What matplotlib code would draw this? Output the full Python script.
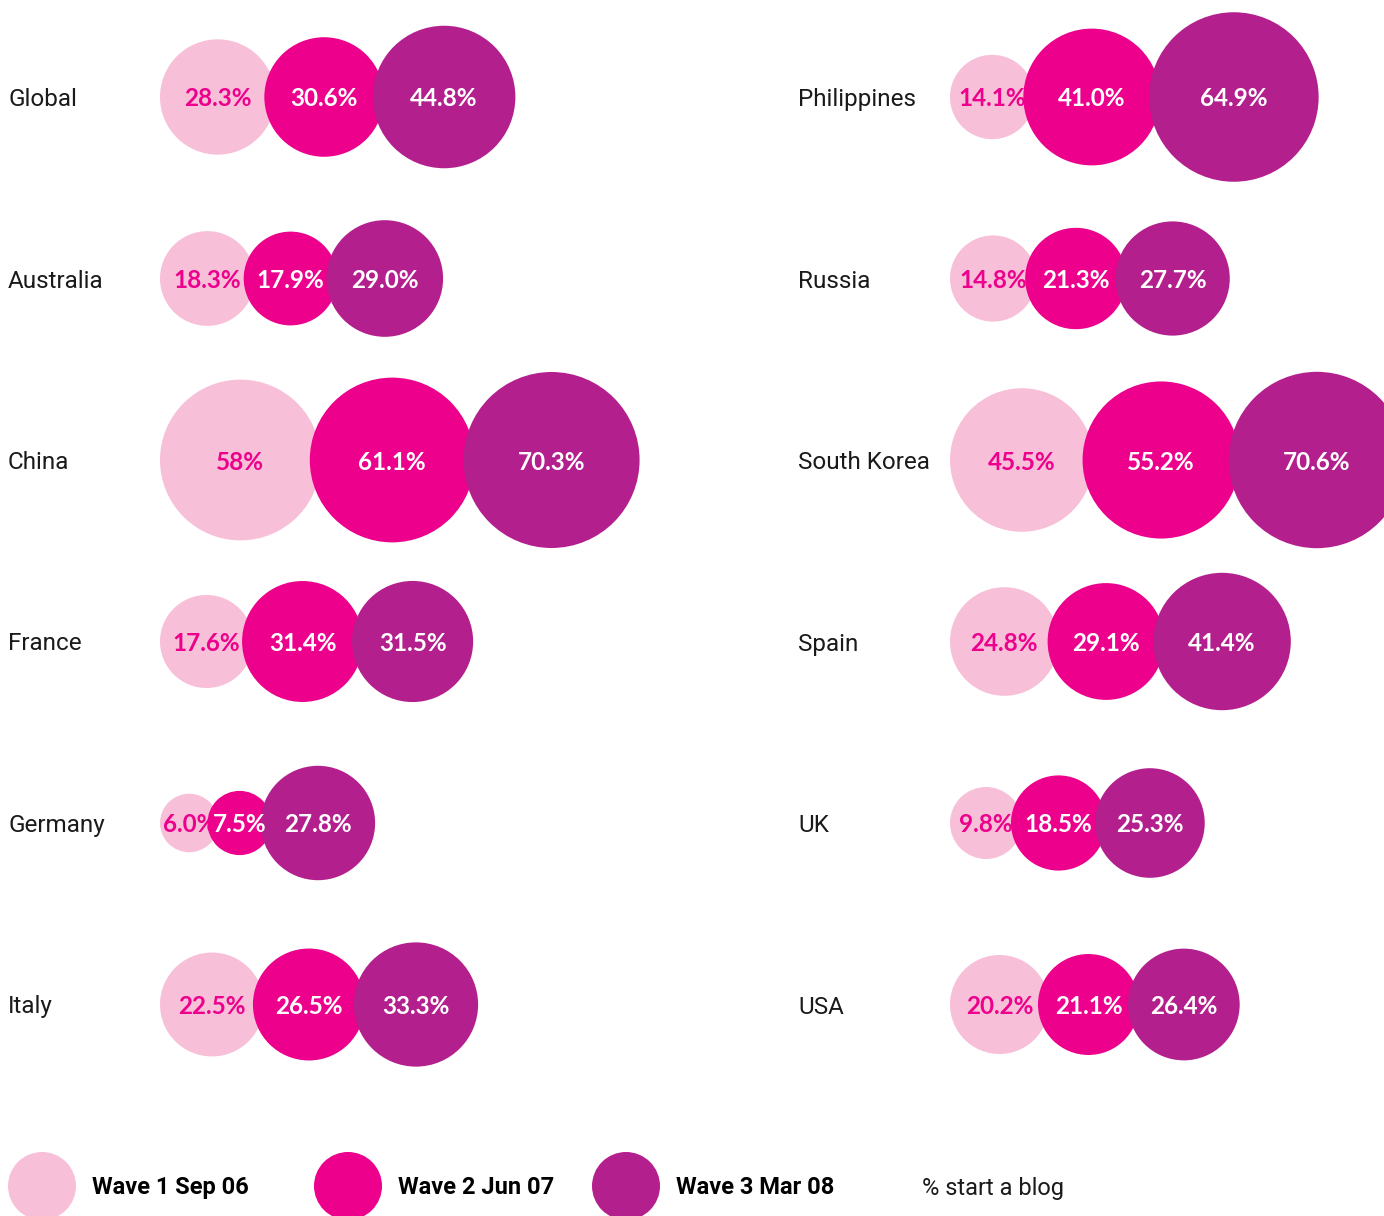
"""Bubble rows: % of internet users who started a blog, three survey waves."""
import numpy as np
import matplotlib
matplotlib.use("Agg")
import matplotlib.pyplot as plt
from matplotlib.patches import Circle

# data
left_countries = ["Global", "Australia", "China", "France", "Germany", "Italy"]
left_wave1 = [28.3, 18.3, 58.0, 17.6, 6.0, 22.5]
left_wave2 = [30.6, 17.9, 61.1, 31.4, 7.5, 26.5]
left_wave3 = [44.8, 29.0, 70.3, 31.5, 27.8, 33.3]
left_text = [["28.3%", "30.6%", "44.8%"], ["18.3%", "17.9%", "29.0%"],
             ["58%", "61.1%", "70.3%"], ["17.6%", "31.4%", "31.5%"],
             ["6.0%", "7.5%", "27.8%"], ["22.5%", "26.5%", "33.3%"]]

right_countries = ["Philippines", "Russia", "South Korea", "Spain", "UK", "USA"]
right_wave1 = [14.1, 14.8, 45.5, 24.8, 9.8, 20.2]
right_wave2 = [41.0, 21.3, 55.2, 29.1, 18.5, 21.1]
right_wave3 = [64.9, 27.7, 70.6, 41.4, 25.3, 26.4]
right_text = [["14.1%", "41.0%", "64.9%"], ["14.8%", "21.3%", "27.7%"],
              ["45.5%", "55.2%", "70.6%"], ["24.8%", "29.1%", "41.4%"],
              ["9.8%", "18.5%", "25.3%"], ["20.2%", "21.1%", "26.4%"]]

waves = ["Wave 1 Sep 06", "Wave 2 Jun 07", "Wave 3 Mar 08"]
measure = "% start a blog"

# styling
COLORS = ["#f7c0d8", "#ec008c", "#b41f8e"]
TEXT_COLORS = ["#ec008c", "white", "white"]
LABEL_FONT = ["Roboto", "DejaVu Sans"]
NUM_FONT = ["Lato", "DejaVu Sans"]
R0, R_SCALE = 5, 9.9   # radius = R0 + R_SCALE * sqrt(percent)
OVERLAP = 11           # px neighbouring bubbles overlap
ROW_Y0, ROW_DY = 97, 181.5

fig = plt.figure(figsize=(13.84, 12.16), dpi=100)
ax = fig.add_axes([0, 0, 1, 1])
ax.set_xlim(0, 1384)
ax.set_ylim(1216, 0)
ax.axis("off")


def draw_column(names, w1, w2, w3, texts, label_x, start_x):
    for i, name in enumerate(names):
        y = ROW_Y0 + i * ROW_DY
        ax.text(label_x, y, name, ha="left", va="center_baseline",
                fontsize=17.5, family=LABEL_FONT, color="#1a1a1a")
        x_edge = start_x
        for j, v in enumerate([w1[i], w2[i], w3[i]]):
            r = R0 + R_SCALE * np.sqrt(v)
            cx = x_edge + r if j == 0 else x_edge - OVERLAP + r
            ax.add_patch(Circle((cx, y), r, facecolor=COLORS[j],
                                edgecolor="none", zorder=2 + j))
            ax.text(cx, y, texts[i][j], ha="center", va="center_baseline",
                    fontsize=17.5, fontweight="bold", family=NUM_FONT,
                    color=TEXT_COLORS[j], zorder=10)
            x_edge = cx + r


draw_column(left_countries, left_wave1, left_wave2, left_wave3, left_text, 8, 160)
draw_column(right_countries, right_wave1, right_wave2, right_wave3, right_text, 798, 950)

# legend
leg_x = [42, 348, 626]
for j, lab in enumerate(waves):
    ax.add_patch(Circle((leg_x[j], 1186), 34, facecolor=COLORS[j],
                        edgecolor="none", zorder=2))
    ax.text(leg_x[j] + 50, 1185, lab, ha="left", va="center_baseline",
            fontsize=17, fontweight="bold", family=LABEL_FONT, color="black")
ax.text(922, 1186, measure, ha="left", va="center_baseline",
        fontsize=17, family=LABEL_FONT, color="#1a1a1a")

fig.savefig("out.png", dpi=100)
